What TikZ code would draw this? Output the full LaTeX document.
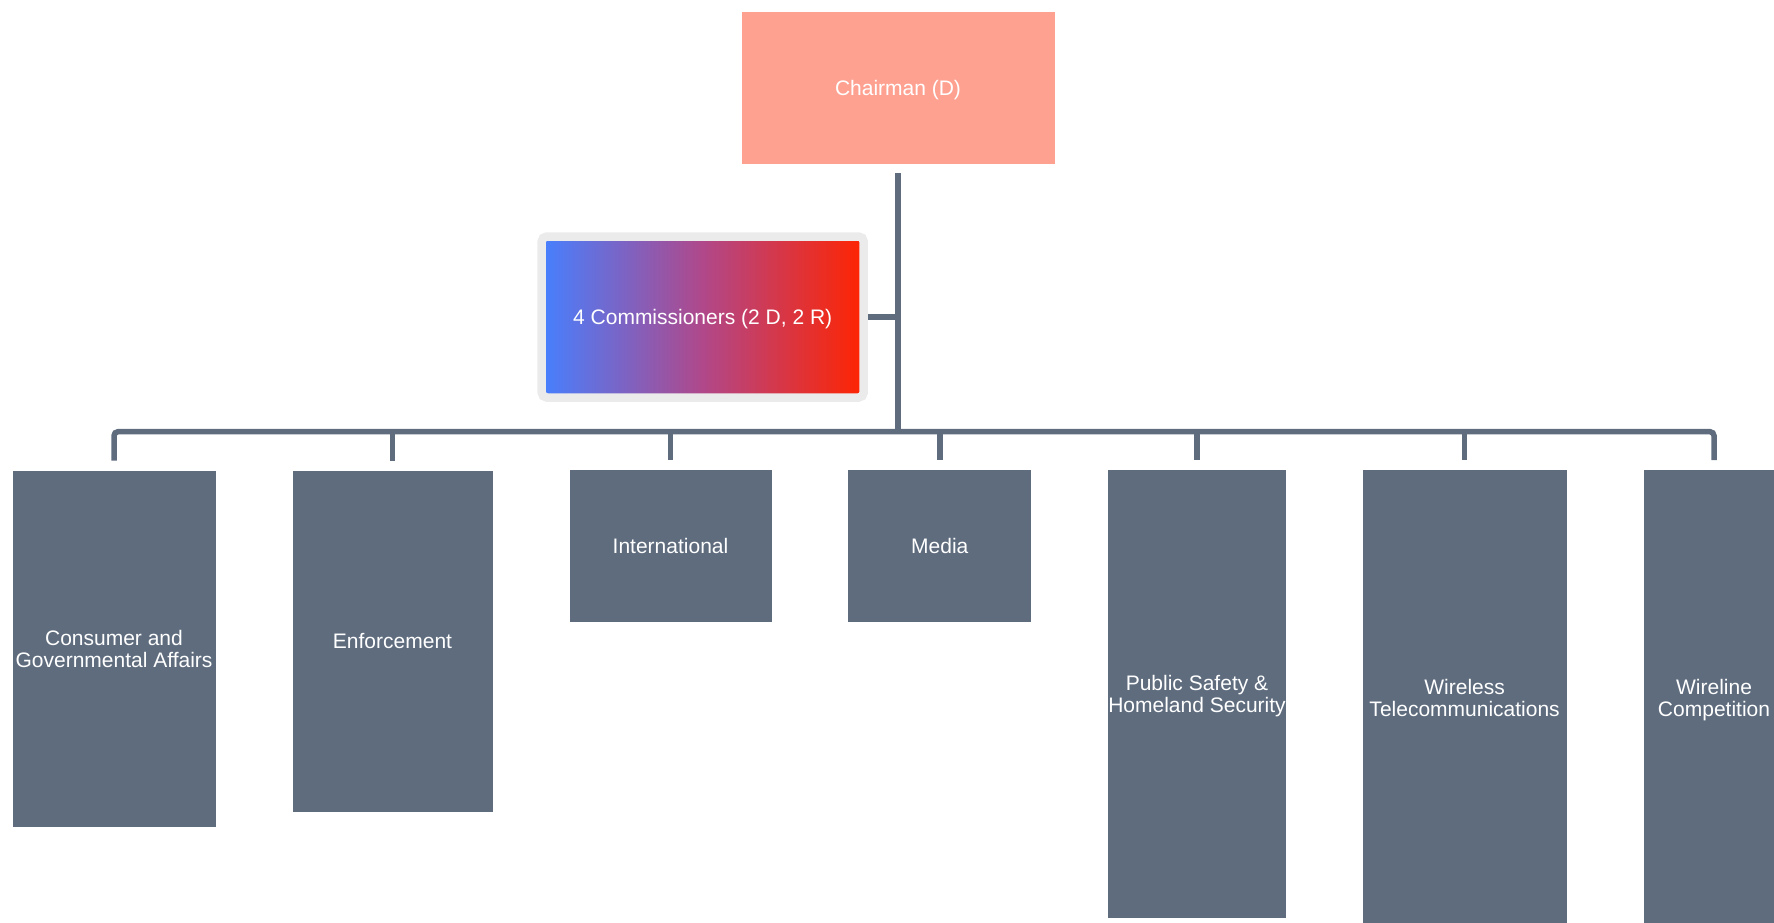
\documentclass[tikz,border=0pt]{standalone}
\usepackage{fontspec}
\setmainfont{Liberation Sans}
\usepackage{xcolor}
\definecolor{chairpink}{RGB}{255,161,145}
\definecolor{slate}{RGB}{94,108,126}
\definecolor{framegray}{RGB}{235,235,235}
\definecolor{demblue}{RGB}{70,128,255}
\definecolor{midpurple}{RGB}{176,72,138}
\definecolor{repred}{RGB}{255,36,0}

\begin{document}
\begin{tikzpicture}[x=1pt, y=-1pt, thick,
    box/.style={rectangle, inner sep=0pt, text=white, align=center, text depth=0pt, font=\fontsize{21}{22}\selectfont},
    office/.style={box, fill=slate, outer sep=0pt},
    link/.style={draw=slate, line width=5.5pt},
  ]
                    \useasboundingbox (0,0) rectangle (1774,923);

                    \node [box, fill=chairpink, outer sep=0pt, minimum width=313pt, minimum height=152pt](chair) at (898,88) {Chairman (D)};
                    \node [box, draw=framegray, line width=8.5pt, rounded corners=5pt, left color=demblue, right color=repred, middle color=midpurple, minimum width=322pt, minimum height=161pt](comm) at (702.7,317) {4 Commissioners (2 D, 2 R)};

                    \node [office, minimum width=203pt, minimum height=356pt](cga) at (114,648.5) {Consumer and\\Governmental Affairs};
                    \node [office, minimum width=200pt, minimum height=341pt](enf) at (392.5,641) {Enforcement};
                    \node [office, minimum width=202pt, minimum height=152pt](intl) at (670.5,546.3) {International};
                    \node [office, minimum width=183pt, minimum height=152pt](media) at (939.8,546.3) {Media};
                    \node [office, minimum width=177pt, minimum height=448pt](pshs) at (1197,694.3) {Public Safety \&\\Homeland Security};
                    \node [office, minimum width=204pt, minimum height=456pt](wtb) at (1464.6,698) {Wireless\\Telecommunications};
                    \node [office, minimum width=140pt, minimum height=456pt](wcb) at (1714,698) {Wireline\\Competition};

                    \coordinate (bar) at (898,431.7);

                    \draw[link] ([yshift=-9pt]chair.south) -- (bar);
                    \draw[link] (comm.east) -- (comm.east -| bar);
                    \draw[link, rounded corners=4pt] ([yshift=10pt]cga.north) -- (cga.north |- bar) -- (wcb.north |- bar) -- ([yshift=10pt]wcb.north);
                    \foreach \n in {enf, intl, media, pshs, wtb}
                        \draw[link] (\n.north |- bar) -- ([yshift=10pt]\n.north);

                \end{tikzpicture}
\end{document}
